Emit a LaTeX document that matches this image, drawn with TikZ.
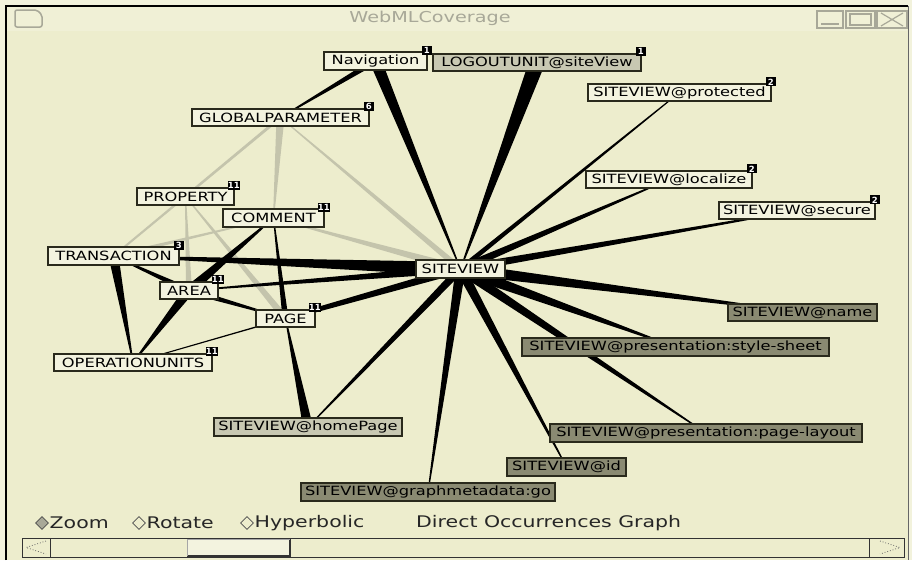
\documentclass[tikz,border=0pt]{standalone}
\usepackage{fontspec}
\setmainfont{DejaVu Sans}
\usetikzlibrary{calc,shapes.geometric}
\pgfdeclarelayer{back}
\pgfdeclarelayer{edges}
\pgfsetlayers{back,edges,main}
\definecolor{pagec}{HTML}{F2F2DC}
\definecolor{bgc}{HTML}{EDEDCD}
\definecolor{titlec}{HTML}{F0F0D6}
\definecolor{nborder}{HTML}{2A2A1C}
\definecolor{nlight}{HTML}{F3F3DF}
\definecolor{nmid}{HTML}{C8C8B2}
\definecolor{ndark}{HTML}{8A8A72}
\definecolor{egray}{HTML}{C4C4AC}
\definecolor{chrome}{HTML}{A8A898}
\newcommand{\sx}[1]{\scalebox{1.28}[1]{#1}}
\newcommand{\wedgeedge}[5]{\fill[#5] ($(#1)!#3!90:(#2)$) -- ($(#1)!#3!-90:(#2)$) -- ($(#2)!#4!90:(#1)$) -- ($(#2)!#4!-90:(#1)$) -- cycle;}
\begin{document}
\begin{tikzpicture}[x=1pt,y=-1pt,
  gnode/.style={draw=nborder,line width=1.8pt,minimum height=17.5pt,inner sep=0pt,font=\fontsize{12.7}{14}\selectfont},
  ln/.style={gnode,fill=nlight},
  mn/.style={gnode,fill=nmid},
  dn/.style={gnode,fill=ndark},
  badge/.style={fill=black,minimum width=10pt,minimum height=9pt,inner sep=0pt,text=white,font=\fontsize{8.5}{8.5}\selectfont\bfseries},
  uitext/.style={anchor=west,inner sep=0pt,font=\fontsize{16}{16}\selectfont,text=black!85},
  radio/.style={diamond,draw=black!70,line width=0.8pt,minimum width=13pt,minimum height=13pt,inner sep=0pt},
]
\useasboundingbox (0,0) rectangle (912,560);
\begin{pgfonlayer}{back}
  \fill[pagec] (0,0) rectangle (912,560);
  \fill[bgc] (6,6) rectangle (908,560);
  \fill[titlec] (7,7) rectangle (907,31);
  \draw[black,line width=2pt] (6,560) -- (6,6) -- (908,6);
  \draw[black!60,line width=1pt] (908,6) -- (908,560);
  % title icon
  \draw[chrome,line width=1.5pt,rounded corners=2pt] (15,10) -- (37,10) -- (42,15) -- (42,27) -- (15,27) -- cycle;
  % title buttons
  \draw[chrome,line width=1.2pt] (817,11) rectangle (843,28);
  \draw[chrome,line width=2pt] (821,24) -- (839,24);
  \draw[chrome,line width=1.2pt] (846,11) rectangle (875,28);
  \draw[chrome,line width=1.2pt] (850,14) rectangle (871,25);
  \draw[chrome,line width=1.2pt] (877,11) rectangle (907,28);
  \draw[chrome,line width=1.2pt] (881,13) -- (903,26) (881,26) -- (903,13);
  % scrollbar
  \draw[black!80,line width=1pt] (22,538) rectangle (904,557);
  \draw[black!80,line width=1pt] (50,538) -- (50,557);
  \draw[black!60,dotted,line width=0.8pt] (46,541) -- (26,547.5) -- (46,554);
  \draw[black!80,line width=1pt] (869,538) -- (869,557);
  \draw[black!60,dotted,line width=0.8pt] (880,541) -- (900,547.5) -- (880,554);
  \fill[nlight] (187,539) rectangle (290,556);
  \draw[black!80,line width=1.2pt] (187,556) -- (290,556) -- (290,539);
  \draw[black!35,line width=1pt] (187,556) -- (187,539) -- (290,539);
\end{pgfonlayer}

\node[text=chrome,inner sep=0pt,font=\fontsize{15}{15}\selectfont] (title) at (430,18) {\sx{WebMLCoverage}};

% graph nodes
\node[ln,minimum width=103pt] (nav) at (375.5,61) {\sx{Navigation}};
\node[mn,minimum width=208pt] (logout) at (537,62.5) {\sx{LOGOUTUNIT@siteView}};
\node[ln,minimum width=183pt] (prot) at (679.5,92.5) {\sx{SITEVIEW@protected}};
\node[ln,minimum width=177pt] (gp) at (280.5,117.5) {\sx{GLOBALPARAMETER}};
\node[ln,minimum width=97pt] (prop) at (185.5,196.5) {\sx{PROPERTY}};
\node[ln,minimum width=101pt] (comm) at (273.5,218) {\sx{COMMENT}};
\node[ln,minimum width=166pt] (loc) at (669,179.5) {\sx{SITEVIEW@localize}};
\node[ln,minimum width=156pt] (sec) at (797,210.5) {\sx{SITEVIEW@secure}};
\node[ln,minimum width=131pt] (trans) at (113.5,256) {\sx{TRANSACTION}};
\node[ln,minimum width=89pt] (sv) at (460.5,269) {\sx{SITEVIEW}};
\node[ln,minimum width=58pt] (area) at (189,290.5) {\sx{AREA}};
\node[ln,minimum width=59pt] (page) at (285.5,318.5) {\sx{PAGE}};
\node[dn,minimum width=149pt] (name) at (802.5,312.5) {\sx{SITEVIEW@name}};
\node[dn,minimum width=307pt] (style) at (675.5,347) {\sx{SITEVIEW@presentation:style-sheet}};
\node[ln,minimum width=158pt] (ou) at (133,362.5) {\sx{OPERATIONUNITS}};
\node[mn,minimum width=188pt] (home) at (308,427) {\sx{SITEVIEW@homePage}};
\node[dn,minimum width=312pt] (layout) at (706,433) {\sx{SITEVIEW@presentation:page-layout}};
\node[dn,minimum width=119pt] (id) at (566.5,467) {\sx{SITEVIEW@id}};
\node[dn,minimum width=254pt] (go) at (428,492) {\sx{SITEVIEW@graphmetadata:go}};

% badges
\node[badge] (bnav) at ([shift={(-1,-1)}]nav.north east) {1};
\node[badge] (blogout) at ([shift={(-1,-1)}]logout.north east) {1};
\node[badge] (bprot) at ([shift={(-1,-1)}]prot.north east) {2};
\node[badge] (bgp) at ([shift={(-1,-1)}]gp.north east) {6};
\node[badge] (bprop) at ([shift={(-1,-1)}]prop.north east) {11};
\node[badge] (bcomm) at ([shift={(-1,-1)}]comm.north east) {11};
\node[badge] (bloc) at ([shift={(-1,-1)}]loc.north east) {2};
\node[badge] (bsec) at ([shift={(-1,-1)}]sec.north east) {2};
\node[badge] (btrans) at ([shift={(-1,-1)}]trans.north east) {3};
\node[badge] (barea) at ([shift={(-1,-1)}]area.north east) {11};
\node[badge] (bpage) at ([shift={(-1,-1)}]page.north east) {11};
\node[badge] (bou) at ([shift={(-1,-1)}]ou.north east) {11};

% edges
\begin{pgfonlayer}{edges}
  % light grey edges
  \wedgeedge{gp}{trans}{1.5pt}{1pt}{egray}
  \wedgeedge{gp}{comm}{4pt}{0.5pt}{egray}
  \wedgeedge{gp}{sv}{0.5pt}{3pt}{egray}
  \wedgeedge{comm}{sv}{0.5pt}{4pt}{egray}
  \wedgeedge{prop}{area}{0.5pt}{3pt}{egray}
  \wedgeedge{prop}{page}{0.5pt}{3.5pt}{egray}
  \wedgeedge{comm}{trans}{0.5pt}{2pt}{egray}
  % black edges
  \wedgeedge{nav}{sv}{6pt}{0.5pt}{black}
  \wedgeedge{logout}{sv}{8pt}{0.5pt}{black}
  \wedgeedge{nav}{gp}{3pt}{0.5pt}{black}
  \wedgeedge{prot}{sv}{0.5pt}{2.5pt}{black}
  \wedgeedge{loc}{sv}{0.5pt}{4pt}{black}
  \wedgeedge{sec}{sv}{0.5pt}{4pt}{black}
  \wedgeedge{name}{sv}{0.5pt}{6pt}{black}
  \wedgeedge{style}{sv}{0.5pt}{6pt}{black}
  \wedgeedge{layout}{sv}{0.5pt}{5pt}{black}
  \wedgeedge{id}{sv}{0.5pt}{5pt}{black}
  \wedgeedge{go}{sv}{0.5pt}{5pt}{black}
  \wedgeedge{home}{sv}{0.5pt}{4pt}{black}
  \wedgeedge{page}{sv}{2pt}{4pt}{black}
  \wedgeedge{area}{sv}{0.5pt}{4pt}{black}
  \wedgeedge{trans}{sv}{0.5pt}{7pt}{black}
  \wedgeedge{trans}{ou}{5pt}{0.5pt}{black}
  \wedgeedge{trans}{area}{0.5pt}{3pt}{black}
  \wedgeedge{ou}{area}{0.5pt}{5pt}{black}
  \wedgeedge{area}{comm}{5pt}{0.5pt}{black}
  \wedgeedge{area}{page}{3pt}{0.5pt}{black}
  \wedgeedge{comm}{page}{0.5pt}{3pt}{black}
  \wedgeedge{page}{home}{0.5pt}{5pt}{black}
  \wedgeedge{ou}{page}{0.5pt}{0.7pt}{black}
\end{pgfonlayer}

% bottom controls
\node[radio,fill=chrome] (rzoom) at (42,523) {};
\node[uitext] (tzoom) at (49.5,523) {\sx{Zoom}};
\node[radio] (rrot) at (139,523) {};
\node[uitext] (trot) at (146.5,523) {\sx{Rotate}};
\node[radio] (rhyp) at (247,523) {};
\node[uitext] (thyp) at (254.5,523) {\sx{Hyperbolic}};
\node[uitext] (tgraph) at (416,523) {\sx{Direct Occurrences Graph}};
\end{tikzpicture}
\end{document}
